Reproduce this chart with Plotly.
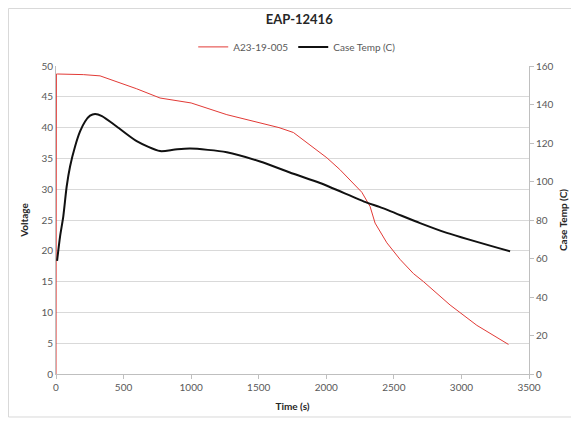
import plotly.graph_objects as go

# Voltage series (A23-19-005), time in seconds
volt_time = [0, 3, 10, 202, 326, 449, 597, 770, 831, 1000, 1264, 1500, 1650, 1757, 1806, 1856, 1954, 2004,
             2100, 2201, 2263, 2324, 2361, 2448, 2546, 2645, 2719, 2916, 3114, 3348]
volt_vals = [0, 48.7, 48.7, 48.6, 48.4, 47.5, 46.3, 44.8, 44.6, 44.0, 42.1, 40.8, 40.0, 39.2, 38.4, 37.5, 35.9, 35.1,
             33.2, 31.0, 29.5, 27.2, 24.5, 21.3, 18.6, 16.3, 15.0, 11.2, 7.9, 4.8]

# Case temperature series
temp_time = [8, 30, 54, 79, 104, 141, 178, 215, 252, 289, 340, 449, 597, 770, 880, 992, 1264, 1510, 1757,
             1954, 2300, 2398, 2694, 2892, 3360]
temp_vals = [58.8, 71.4, 81.9, 97.4, 107.8, 118.2, 126.0, 131.2, 134.2, 135.1, 134.0, 128.6, 121.0, 115.8, 116.6,
             117.1, 115.2, 110.4, 104.0, 99.2, 89.0, 86.7, 78.4, 73.3, 63.7]

title_text = "EAP-12416"
volt_name = "A23-19-005"
temp_name = "Case Temp (C)"

FONT = "Lato, 'Open Sans', sans-serif"
TXT = "#595959"

fig = go.Figure()
fig.add_trace(go.Scatter(x=volt_time, y=volt_vals, name=volt_name, mode="lines",
                         line=dict(color="#e23a36", width=1), yaxis="y"))
fig.add_trace(go.Scatter(x=temp_time, y=temp_vals, name=temp_name, mode="lines",
                         line=dict(color="#111111", width=2, shape="spline", smoothing=0.7), yaxis="y2"))

# page body has an 8px margin, so the figure is 8px smaller and offset
fig.update_layout(
    width=571, height=413,
    margin=dict(l=48, r=50, t=58, b=47, autoexpand=False),
    paper_bgcolor="white", plot_bgcolor="white",
    font=dict(family=FONT, size=10, color=TXT),
    title=dict(text="<b>" + title_text + "</b>", x=0.51, xanchor="center", y=0.973, yanchor="middle",
               font=dict(family=FONT, size=13, color="#262626")),
    legend=dict(orientation="h", x=0.51, xanchor="center", y=1.062, yanchor="middle",
                font=dict(family=FONT, size=10, color=TXT), itemwidth=30, bgcolor="rgba(0,0,0,0)"),
    xaxis=dict(range=[0, 3500], dtick=500, tick0=0, showgrid=False, zeroline=False,
               showline=True, linecolor="#bfbfbf", linewidth=1, ticks="outside", ticklen=4,
               tickcolor="#bfbfbf", tickfont=dict(size=10, color=TXT),
               title=dict(text="<b>Time (s)</b>", font=dict(size=10, color="#262626"), standoff=10)),
    yaxis=dict(range=[0, 50], dtick=5, tick0=0, showgrid=True, gridcolor="#d9d9d9", gridwidth=1,
               zeroline=False, showline=True, linecolor="#bfbfbf", linewidth=1, ticks="",
               tickfont=dict(size=10, color=TXT),
               title=dict(text="<b>Voltage</b>", font=dict(size=10, color="#262626"), standoff=10)),
    yaxis2=dict(range=[0, 160], dtick=20, tick0=0, overlaying="y", side="right", showgrid=False,
                zeroline=False, showline=True, linecolor="#bfbfbf", linewidth=1, ticks="outside",
                ticklen=4, tickcolor="#bfbfbf", tickfont=dict(size=10, color=TXT),
                title=dict(text="<b>Case Temp (C)</b>", font=dict(size=10, color="#262626"), standoff=7)),
    shapes=[dict(type="rect", xref="paper", yref="paper", x0=-0.1004, x1=1.0951, y0=-0.1396, y1=1.1867,
                 line=dict(color="#d9d9d9", width=1), fillcolor="rgba(0,0,0,0)", layer="below")],
)

fig.write_html("out.html")
